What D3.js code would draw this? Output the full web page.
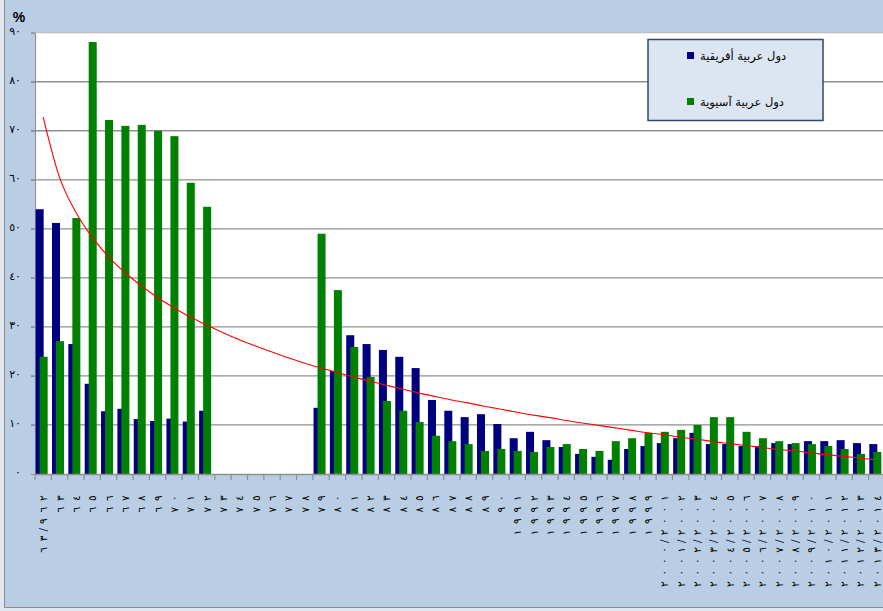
<!DOCTYPE html>
<html lang="ar">
<head>
<meta charset="UTF-8">
<title>chart</title>
<style>
  body { margin:0; background:#dfe6ef; overflow:hidden; }
  svg { display:block; }
</style>
</head>
<body>
<svg width="883" height="611"></svg>
<script src="https://cdnjs.cloudflare.com/ajax/libs/d3/7.8.5/d3.min.js"></script>
<script>
// categories (school years), Arabic-Indic digits
const categories = [
  "٦٣/٩٦٢","٦٣","٦٤","٦٥","٦٦","٦٧","٦٨","٦٩","٧٠","٧١","٧٢","٧٣","٧٤","٧٥","٧٦","٧٧","٧٨","٧٩",
  "٨٠","٨١","٨٢","٨٣","٨٤","٨٥","٨٦","٨٧","٨٨","٨٩","٩٠",
  "١٩٩١","١٩٩٢","١٩٩٣","١٩٩٤","١٩٩٥","١٩٩٦","١٩٩٧","١٩٩٨","١٩٩٩",
  "٢٠٠٠/٢٠٠١","٢٠٠١/٢٠٠٢","٢٠٠٢/٢٠٠٣","٢٠٠٣/٢٠٠٤","٢٠٠٤/٢٠٠٥","٢٠٠٥/٢٠٠٦","٢٠٠٦/٢٠٠٧",
  "٢٠٠٧/٢٠٠٨","٢٠٠٨/٢٠٠٩","٢٠٠٩/٢٠١٠","٢٠١٠/٢٠١١","٢٠١١/٢٠١٢","٢٠١٢/٢٠١٣","٢٠١٣/٢٠١٤"
];

// African Arab countries (navy)
const africa = [
  54.0, 51.2, 26.5, 18.4, 12.8, 13.3, 11.2, 10.8, 11.3, 10.7, 12.9,
  null, null, null, null, null, null,
  13.5, 21.0, 28.3, 26.5, 25.3, 23.9, 21.6, 15.1, 12.9, 11.6, 12.2, 10.2,
  7.3, 8.6, 6.9, 5.5, 4.1, 3.5, 2.9, 5.1, 5.7,
  6.3, 7.3, 8.4, 6.1, 6.1, 5.7, 5.7, 6.3, 6.1, 6.7, 6.7, 6.9, 6.3, 6.1
];

// Asian Arab countries (green)
const asia = [
  23.9, 27.1, 52.2, 88.1, 72.2, 71.0, 71.2, 70.0, 68.9, 59.4, 54.5,
  null, null, null, null, null, null,
  49.0, 37.5, 25.9, 19.8, 14.9, 12.9, 10.6, 7.8, 6.7, 6.1, 4.7, 5.1,
  4.7, 4.5, 5.5, 6.1, 5.1, 4.7, 6.7, 7.3, 8.4,
  8.6, 9.0, 10.0, 11.6, 11.6, 8.6, 7.3, 6.7, 6.3, 6.1, 5.7, 5.1, 4.1, 4.5
];

// red trend curve at each category
const trend = [
  72.8, 60.5, 53.4, 48.3, 44.3, 41.1, 38.4, 36.0, 33.9, 32.0, 30.4, 28.8, 27.4,
  26.1, 24.9, 23.7, 22.6, 21.6, 20.7, 19.8, 18.9, 18.1, 17.3, 16.5, 15.8, 15.1,
  14.5, 13.8, 13.2, 12.6, 12.0, 11.5, 10.9, 10.4, 9.9, 9.4, 8.9, 8.4, 8.0,
  7.5, 7.1, 6.6, 6.2, 5.8, 5.4, 5.0, 4.7, 4.3, 3.9, 3.6, 3.2, 2.9
];

const yTicks = [0, 10, 20, 30, 40, 50, 60, 70, 80, 90];
const yTickLabels = ["٠","١٠","٢٠","٣٠","٤٠","٥٠","٦٠","٧٠","٨٠","٩٠"];
const seriesNames = ["دول عربية أفريقية", "دول عربية آسيوية"];
const colors = ["#000080", "#008000"];

const svg = d3.select("svg");
const plotL = 35, plotR = 885, plotT = 32.7, plotB = 474;

// chart background + frame
svg.append("rect").attr("x", 4.5).attr("y", -5).attr("width", 900).attr("height", 612.5)
  .attr("fill", "#b9cde5").attr("stroke", "#8c8c8c").attr("stroke-width", 1);

const x = d3.scaleBand().domain(categories).range([plotL, plotR]).padding(0);
const y = d3.scaleLinear().domain([0, 90]).range([plotB, plotT]);
const bw = x.bandwidth();

// plot area
svg.append("rect").attr("x", plotL).attr("y", plotT).attr("width", plotR - plotL).attr("height", plotB - plotT)
  .attr("fill", "#fff");

// gridlines (extend left as tick marks)
svg.append("g").selectAll("line").data(yTicks.filter(d => d > 0)).join("line")
  .attr("x1", plotL - 4).attr("x2", plotR)
  .attr("y1", d => y(d)).attr("y2", d => y(d))
  .attr("stroke", d => d === 90 ? "#bdbdbd" : "#8f8f8f").attr("stroke-width", 1.3);

// y axis
const yAxis = svg.append("g").attr("transform", `translate(${plotL},0)`)
  .call(d3.axisLeft(y).tickValues(yTicks).tickSize(4).tickPadding(10)
    .tickFormat((d, i) => yTickLabels[i]));
yAxis.select(".domain").attr("stroke", "#8f8f8f");
yAxis.selectAll(".tick line").attr("stroke", "#8f8f8f");
yAxis.selectAll(".tick text")
  .attr("font-family", "DejaVu Sans").attr("font-size", 11).attr("fill", "#000")
  .attr("dy", "0.15em");

svg.append("text").attr("x", 19).attr("y", 22).attr("text-anchor", "middle")
  .attr("font-family", "Liberation Sans").attr("font-weight", "bold").attr("font-size", 14)
  .text("%");

// bars
const series = [africa, asia];
const offs = [0.04, 0.285];
series.forEach((vals, s) => {
  svg.append("g").selectAll("rect")
    .data(vals.map((v, i) => ({ c: categories[i], v })).filter(d => d.v != null))
    .join("rect")
    .attr("x", d => x(d.c) + bw * offs[s])
    .attr("width", bw * 0.49)
    .attr("y", d => y(d.v))
    .attr("height", d => y(0) - y(d.v))
    .attr("fill", colors[s]);
});

// trend line
const line = d3.line()
  .x((d, i) => x(categories[i]) + bw / 2)
  .y(d => y(d))
  .curve(d3.curveMonotoneX);
svg.append("path").datum(trend).attr("d", line)
  .attr("fill", "none").attr("stroke", "#ff0000").attr("stroke-width", 1.1);

// x axis
svg.append("line").attr("x1", plotL).attr("x2", plotR).attr("y1", plotB + 0.5).attr("y2", plotB + 0.5)
  .attr("stroke", "#8f8f8f").attr("stroke-width", 1.5);
svg.append("g").selectAll("line").data(categories.concat(["__end"])).join("line")
  .attr("x1", d => d === "__end" ? plotR : x(d)).attr("x2", d => d === "__end" ? plotR : x(d))
  .attr("y1", plotB).attr("y2", plotB + 6)
  .attr("stroke", "#8f8f8f").attr("stroke-width", 1.2);

// category labels: rotated, characters stacked upward (first char at the bottom)
const labelG = svg.append("g");
categories.forEach(c => {
  const chars = Array.from(c).reverse();
  let cur = 492.6;
  const cx = x(c) + bw / 2;
  chars.forEach(ch => {
    const adv = ch === "/" ? 6 : 11.4;
    const cy = cur + adv / 2;
    cur += adv;
    labelG.append("text")
      .attr("transform", `translate(${cx},${cy}) rotate(-90)`)
      .attr("text-anchor", "middle").attr("dominant-baseline", "central")
      .attr("font-family", "DejaVu Sans").attr("font-size", 10.5).attr("fill", "#000")
      .text(ch);
  });
});

// legend
const lg = svg.append("g");
lg.append("rect").attr("x", 648).attr("y", 39.5).attr("width", 175).attr("height", 81)
  .attr("fill", "#dce6f2").attr("stroke", "#2e4a6b").attr("stroke-width", 1.5);
seriesNames.forEach((name, i) => {
  const yy = [55.5, 101.5][i];
  lg.append("rect").attr("x", 687).attr("y", yy - 3.5).attr("width", 7).attr("height", 7)
    .attr("fill", colors[i]);
  lg.append("text").attr("x", 700).attr("y", yy).attr("dominant-baseline", "central")
    .attr("font-family", "DejaVu Sans").attr("font-size", 11.5).attr("fill", "#000")
    .text(name);
});
</script>
</body>
</html>
